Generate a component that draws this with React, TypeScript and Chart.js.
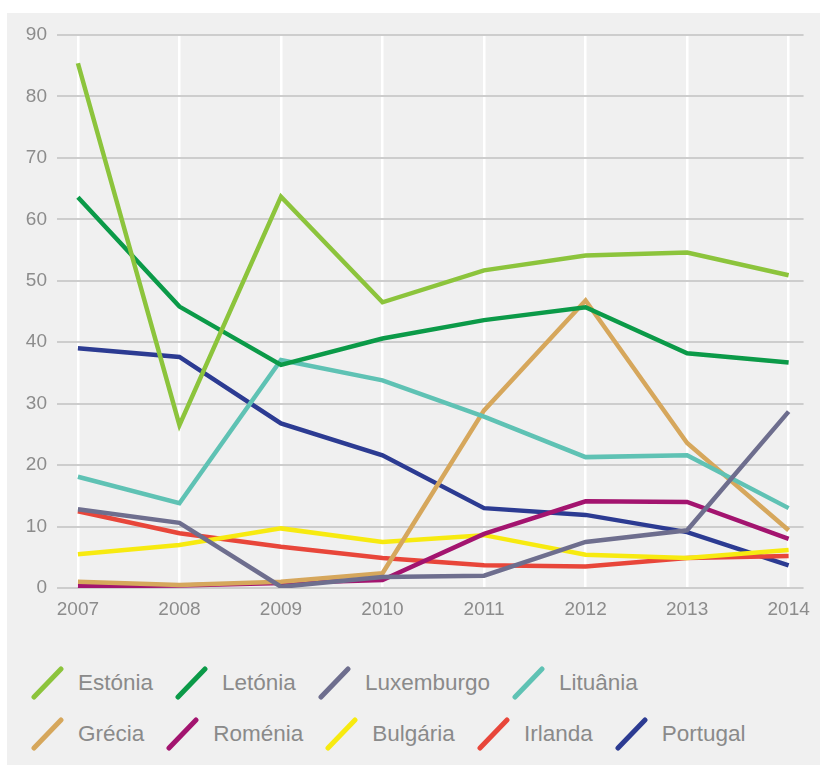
import React, { useEffect, useRef } from "react";
import { Chart, registerables } from "chart.js";

Chart.register(...registerables);

const years = [2007, 2008, 2009, 2010, 2011, 2012, 2013, 2014];
const yTicks = [0, 10, 20, 30, 40, 50, 60, 70, 80, 90];

const estonia = [85.4, 26.5, 63.7, 46.5, 51.7, 54.1, 54.6, 50.9];
const letonia = [63.6, 45.8, 36.3, 40.6, 43.6, 45.7, 38.2, 36.7];
const luxemburgo = [12.8, 10.6, 0.2, 1.8, 2.0, 7.5, 9.4, 28.7];
const lituania = [18.1, 13.8, 37.1, 33.8, 27.9, 21.3, 21.6, 13.0];
const grecia = [1.0, 0.5, 1.0, 2.4, 28.9, 46.8, 23.6, 9.4];
const romenia = [0.3, 0.4, 0.8, 1.3, 8.8, 14.1, 14.0, 8.0];
const bulgaria = [5.5, 7.0, 9.7, 7.5, 8.6, 5.4, 4.9, 6.2];
const irlanda = [12.5, 8.9, 6.7, 4.9, 3.7, 3.5, 4.9, 5.2];
const portugal = [39.0, 37.6, 26.8, 21.6, 13.0, 11.9, 9.1, 3.7];

const seriesNames = ["Estónia", "Letónia", "Luxemburgo", "Lituânia", "Grécia", "Roménia", "Bulgária", "Irlanda", "Portugal"];
const seriesValues = [estonia, letonia, luxemburgo, lituania, grecia, romenia, bulgaria, irlanda, portugal];
const seriesColors = ["#8cc43c", "#0b9a48", "#6e6e8e", "#5fc2b4", "#d6a75c", "#a3146f", "#f7ea10", "#e8463a", "#2c3b92"];

const FONT = "'Liberation Sans', Arial, sans-serif";

function Marker({ color }: { color: string }) {
  return (
    <svg width={34} height={34} style={{ display: "block", flex: "none" }}>
      <line x1={4} y1={31} x2={31} y2={3} stroke={color} strokeWidth={5} strokeLinecap="round" />
    </svg>
  );
}

export default function App() {
  const canvasRef = useRef<HTMLCanvasElement | null>(null);

  useEffect(() => {
    if (!canvasRef.current) return;
    const chart = new Chart(canvasRef.current, {
      type: "line",
      data: {
        labels: years,
        datasets: seriesNames.map((name, i) => ({
          label: name,
          data: seriesValues[i],
          borderColor: seriesColors[i],
          backgroundColor: seriesColors[i],
          borderWidth: 4.5,
          pointRadius: 0,
          tension: 0,
          fill: false,
        })),
      },
      options: {
        animation: false,
        responsive: false,
        devicePixelRatio: 1,
        layout: { padding: { top: 22, right: 12, left: 0, bottom: 0 } },
        plugins: {
          legend: { display: false },
          tooltip: { enabled: false },
        },
        scales: {
          x: {
            type: "linear",
            min: 2006.794,
            max: 2014.147,
            z: -2,
            afterBuildTicks: (s: any) => {
              s.ticks = years.map((v) => ({ value: v }));
            },
            afterFit: (s: any) => {
              s.height = 45;
            },
            border: { display: false },
            grid: { color: "#ffffff", lineWidth: 2.5, drawTicks: false },
            ticks: {
              padding: 10,
              color: "#8c8c8c",
              font: { family: FONT, size: 19 },
              maxRotation: 0,
              autoSkip: false,
              callback: (v: any) => String(v),
            },
          },
          y: {
            min: 0,
            max: 90,
            z: -1,
            afterBuildTicks: (s: any) => {
              s.ticks = yTicks.map((v) => ({ value: v }));
            },
            afterFit: (s: any) => {
              s.width = 50;
            },
            border: { display: false },
            grid: { color: "#cdcdcd", lineWidth: 2, drawTicks: false },
            ticks: {
              padding: 10,
              color: "#8c8c8c",
              font: { family: FONT, size: 19 },
              callback: (v: any) => String(v),
            },
          },
        },
      },
    });
    return () => chart.destroy();
  }, []);

  const rows = [seriesNames.slice(0, 4), seriesNames.slice(4)];

  return (
    <div
      style={{
        position: "absolute",
        left: 7,
        top: 13,
        width: 813,
        height: 752,
        background: "#f0f0f0",
        fontFamily: FONT,
      }}
    >
      <canvas ref={canvasRef} width={813} height={620} style={{ display: "block" }} />
      <div style={{ paddingLeft: 23, marginTop: 33 }}>
        {rows.map((row, ri) => (
          <div key={ri} style={{ display: "flex", alignItems: "center", height: 34, marginBottom: ri === 0 ? 17 : 0 }}>
            {row.map((name) => {
              const idx = seriesNames.indexOf(name);
              return (
                <div key={name} style={{ display: "flex", alignItems: "center", marginRight: 21 }}>
                  <Marker color={seriesColors[idx]} />
                  <span style={{ marginLeft: 14, fontSize: 22.5, color: "#8a8a8a", whiteSpace: "nowrap" }}>{name}</span>
                </div>
              );
            })}
          </div>
        ))}
      </div>
    </div>
  );
}
